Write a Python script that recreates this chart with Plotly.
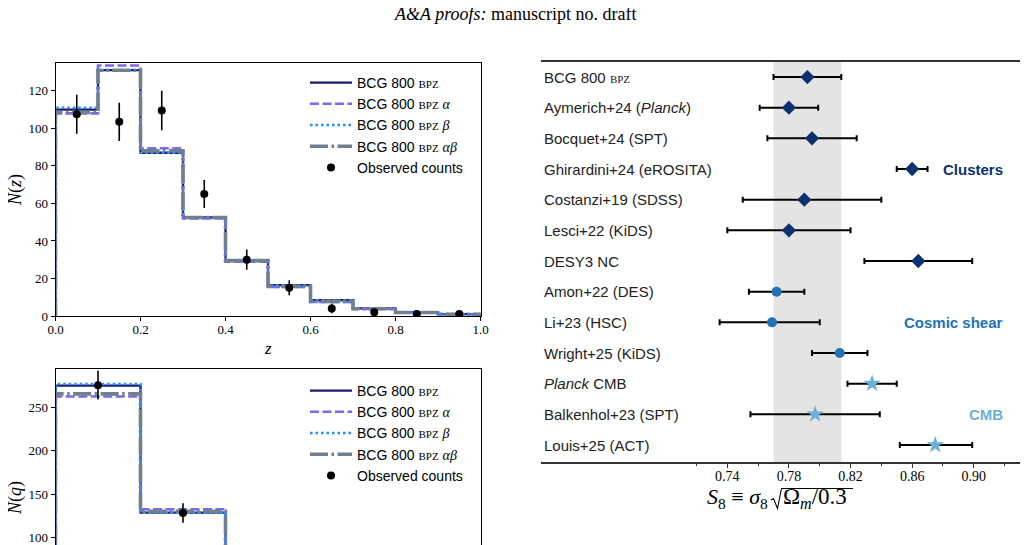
import plotly.graph_objects as go

W, H = 1028, 545
OX, OY = 8, 8   # page offset of the plot inside the browser window


def px(x):
    return (x - OX) / W


def py(y):
    return 1 - (y - OY) / H


# ---------------- data: N(z) ----------------
z_edges = [0.0, 0.1, 0.2, 0.3, 0.4, 0.5, 0.6, 0.7, 0.8, 0.9, 1.0]
nz_bpz = [110, 131, 87, 52.5, 29.5, 16.5, 8.5, 4.1, 2.0, 1.0]
nz_alpha = [108, 133.5, 89.4, 52, 29, 15.5, 7.5, 3.8, 1.8, 0.8]
nz_beta = [111, 131, 87, 52.5, 29.5, 16.2, 8.2, 4.0, 2.0, 1.0]
nz_ab = [108.5, 131, 88, 52.5, 29.5, 15.8, 7.8, 3.9, 1.9, 0.9]
z_obs = [0.05, 0.15, 0.25, 0.35, 0.45, 0.55, 0.65, 0.75, 0.85, 0.95]
nz_obs = [107.5, 103.5, 109.5, 65, 30, 15, 4, 2, 1, 1]
nz_err = [10.4, 10.2, 10.5, 7.5, 5.4, 4.0, 2.5, 1.4, 1.0, 1.0]

# ---------------- data: N(q) ----------------
q_edges = [0, 1, 2, 3, 4, 5]
nq_bpz = [275.5, 128.5, 60, 25, 10]
nq_alpha = [263, 132.5, 61, 25, 10]
nq_beta = [277.5, 128.5, 60, 25, 10]
nq_ab = [266, 130, 60, 25, 10]
q_obs = [0.5, 1.5, 2.5, 3.5, 4.5]
nq_obs = [276, 128, 58, 24, 9]
nq_err = [16.6, 11.3, 7.6, 4.9, 3.0]

# ---------------- data: S8 comparison ----------------
BPZ = "<span style='font-family:Liberation Serif;font-size:11px'>BPZ</span>"
s8_labels = ["BCG 800 " + BPZ, "Aymerich+24 (<i>Planck</i>)", "Bocquet+24 (SPT)",
             "Ghirardini+24 (eROSITA)", "Costanzi+19 (SDSS)", "Lesci+22 (KiDS)",
             "DESY3 NC", "Amon+22 (DES)", "Li+23 (HSC)", "Wright+25 (KiDS)",
             "<i>Planck</i> CMB", "Balkenhol+23 (SPT)", "Louis+25 (ACT)"]
s8_values = [0.792, 0.780, 0.795, 0.860, 0.790, 0.780, 0.864, 0.772, 0.769, 0.813, 0.834, 0.797, 0.875]
s8_err_lo = [0.022, 0.019, 0.029, 0.010, 0.040, 0.040, 0.035, 0.018, 0.034, 0.018, 0.016, 0.042, 0.023]
s8_err_hi = [0.022, 0.019, 0.029, 0.010, 0.050, 0.040, 0.035, 0.018, 0.031, 0.018, 0.016, 0.042, 0.024]
s8_groups = ["Clusters"] * 7 + ["Cosmic shear"] * 3 + ["CMB"] * 3
group_names = ["Clusters", "Cosmic shear", "CMB"]
group_colors = ["#0b326e", "#2272b8", "#6baed6"]
group_symbols = ["diamond", "circle", "star"]
group_sizes = [11, 10, 13]
group_label_rows = [3, 8, 11]
s8_ticks = [0.74, 0.78, 0.82, 0.86, 0.90]
s8_minor_ticks = [0.72, 0.76, 0.80, 0.84, 0.88, 0.92]

# ---------------- styles ----------------
SERIF = "Liberation Serif"
SANS = "Liberation Sans"
series_names = ["BCG 800 " + BPZ,
                "BCG 800 " + BPZ + " <span style='font-family:Liberation Serif'><i>α</i></span>",
                "BCG 800 " + BPZ + " <span style='font-family:Liberation Serif'><i>β</i></span>",
                "BCG 800 " + BPZ + " <span style='font-family:Liberation Serif'><i>αβ</i></span>"]
series_colors = ["#191970", "#7b68ee", "#1e90ff", "#708090"]
series_dash = ["solid", "9px,3.5px", "2.5px,3px", "18px,3.5px,2.5px,3.5px"]
series_width = [2.3, 2.6, 2.5, 3.6]


def step_xy(edges, vals):
    xs = [edges[0]] + list(edges) + [edges[-1]]
    ys = [0] + list(vals) + [vals[-1], 0]
    return xs, ys


fig = go.Figure()

draw_order = [0, 1, 2, 3]
for panel, (edges, sets, xa, ya, leg) in enumerate([
        (z_edges, [nz_bpz, nz_alpha, nz_beta, nz_ab], "x", "y", "legend"),
        (q_edges, [nq_bpz, nq_alpha, nq_beta, nq_ab], "x2", "y2", "legend2")]):
    for k in draw_order:
        xs, ys = step_xy(edges, sets[k])
        fig.add_trace(go.Scatter(
            x=xs, y=ys, mode="lines", line_shape="hv",
            line=dict(color=series_colors[k], width=series_width[k], dash=series_dash[k]),
            name=series_names[k], xaxis=xa, yaxis=ya, legend=leg,
            legendrank=k + 1, legendgroup=f"g{panel}{k}", showlegend=True))

for xa, ya, leg, xo, yo, eo in [("x", "y", "legend", z_obs, nz_obs, nz_err),
                                ("x2", "y2", "legend2", q_obs, nq_obs, nq_err)]:
    fig.add_trace(go.Scatter(
        x=xo, y=yo, mode="markers", name="Observed counts",
        marker=dict(color="black", size=8),
        error_y=dict(type="data", array=eo, color="black", thickness=1.6, width=0),
        xaxis=xa, yaxis=ya, legend=leg, legendrank=5, legendgroup="obs" + xa))

rows = list(range(len(s8_labels)))
for g, gname in enumerate(group_names):
    idx = [i for i in rows if s8_groups[i] == gname]
    fig.add_trace(go.Scatter(
        x=[s8_values[i] for i in idx], y=[rows[i] for i in idx], mode="markers",
        marker=dict(color=group_colors[g], symbol=group_symbols[g], size=group_sizes[g],
                    line=dict(width=0)),
        error_x=dict(type="data", symmetric=False,
                     array=[s8_err_hi[i] for i in idx],
                     arrayminus=[s8_err_lo[i] for i in idx],
                     color="black", thickness=2, width=3),
        xaxis="x3", yaxis="y3", showlegend=False))

annotations = []
for i, lab in enumerate(s8_labels):
    annotations.append(dict(x=px(541.5), xref="paper", y=rows[i], yref="y3",
                            text=lab, showarrow=False, xanchor="left", yanchor="middle",
                            font=dict(family=SANS, size=15, color="#222222")))
for g, gname in enumerate(group_names):
    annotations.append(dict(x=px(1005), xref="paper", y=group_label_rows[g], yref="y3",
                            text="<b>" + gname + "</b>", showarrow=False,
                            xanchor="right", yanchor="middle",
                            font=dict(family=SANS, size=15, color=group_colors[g])))

annotations += [
    dict(x=px(515), y=py(14), xref="paper", yref="paper", showarrow=False,
         xanchor="center", yanchor="middle",
         text="<i>A&A proofs:</i> manuscript no. draft",
         font=dict(family=SERIF, size=18, color="black")),
    dict(x=px(268), y=py(348), xref="paper", yref="paper", showarrow=False,
         xanchor="center", yanchor="middle",
         text="<i>z</i>", font=dict(family=SERIF, size=17, color="black")),
    dict(x=px(15), y=py(190), xref="paper", yref="paper", showarrow=False, textangle=-90,
         xanchor="center", yanchor="middle",
         text="<i>N</i>(<i>z</i>)", font=dict(family=SERIF, size=18, color="black")),
    dict(x=px(15), y=py(498), xref="paper", yref="paper", showarrow=False, textangle=-90,
         xanchor="center", yanchor="middle",
         text="<i>N</i>(<i>q</i>)", font=dict(family=SERIF, size=18, color="black")),
    dict(x=px(770), y=py(498), xref="paper", yref="paper", showarrow=False,
         xanchor="right", yanchor="middle",
         text="<i>S</i><sub>8</sub> ≡ <i>σ</i><sub>8</sub>",
         font=dict(family=SERIF, size=22, color="black")),
    dict(x=px(781), y=py(498), xref="paper", yref="paper", showarrow=False,
         xanchor="left", yanchor="middle",
         text="Ω<sub><i>m</i></sub>/0.3",
         font=dict(family=SERIF, size=23, color="black")),
]


def P(x, y):
    return f"{px(x):.5f} {py(y):.5f}"


band_lo = s8_values[0] - s8_err_lo[0]
band_hi = s8_values[0] + s8_err_hi[0]
shapes = [
    dict(type="rect", xref="x3", yref="y3 domain", x0=band_lo, x1=band_hi, y0=0, y1=1,
         fillcolor="#e4e4e4", line=dict(width=0), layer="below"),
    # radical sign of the square root in the axis label
    dict(type="path", xref="paper", yref="paper",
         path="M " + P(771, 500) + " L " + P(773.5, 498.5) + " L " + P(777.5, 508.5)
              + " L " + P(781.5, 488.5) + " L " + P(853, 488.5),
         line=dict(color="black", width=1.1)),
]

tickfont = dict(family=SERIF, size=13, color="black")
axis_common = dict(showline=True, linecolor="black", linewidth=1, ticks="outside",
                   ticklen=4, tickcolor="black", showgrid=False, zeroline=False,
                   tickfont=tickfont, automargin=False)

legend_common = dict(font=dict(family=SANS, size=14, color="black"),
                     bgcolor="rgba(0,0,0,0)", xanchor="left", yanchor="top",
                     itemwidth=42, tracegroupgap=0, traceorder="grouped")

fig.update_layout(
    width=W, height=H, margin=dict(l=0, r=0, t=0, b=0, pad=0, autoexpand=False),
    paper_bgcolor="white", plot_bgcolor="white",
    xaxis=dict(domain=[px(55.5), px(480.5)], range=[0, 1], tick0=0, dtick=0.2,
               tickformat=".1f", mirror=True, anchor="y", ticklabelstandoff=-3,
               **axis_common),
    yaxis=dict(domain=[py(316), py(62.7)], range=[0, 135], tick0=0, dtick=20,
               mirror=True, anchor="x", **axis_common),
    xaxis2=dict(domain=[px(55.5), px(480.5)], range=[0, 5], side="top", mirror=False,
                showticklabels=False, anchor="y2",
                **{**axis_common, "ticks": ""}),
    yaxis2=dict(domain=[0, py(369.3)], range=[81.8, 294.4], tick0=0, dtick=50,
                mirror=True, anchor="x2", **axis_common),
    xaxis3=dict(domain=[px(541), px(1021)], range=[0.619, 0.9307],
                tickvals=s8_ticks, tickformat=".2f",
                showline=True, mirror=True, linecolor="#333333", linewidth=1.5,
                ticks="outside", ticklen=4.5, tickcolor="#333333", tickwidth=1,
                minor=dict(tickmode="array", tickvals=s8_minor_ticks,
                           ticks="outside", ticklen=2.5, tickcolor="#333333"),
                showgrid=False, zeroline=False, anchor="y3", automargin=False,
                ticklabelstandoff=-4,
                tickfont=dict(family=SERIF, size=14, color="black")),
    yaxis3=dict(domain=[py(462), py(62)], range=[12.554, -0.49], visible=False,
                anchor="x3", automargin=False),
    legend=dict(x=px(305), y=py(67), **legend_common),
    legend2=dict(x=px(305), y=py(375), **legend_common),
    annotations=annotations, shapes=shapes,
)

fig.write_html("out.html")
